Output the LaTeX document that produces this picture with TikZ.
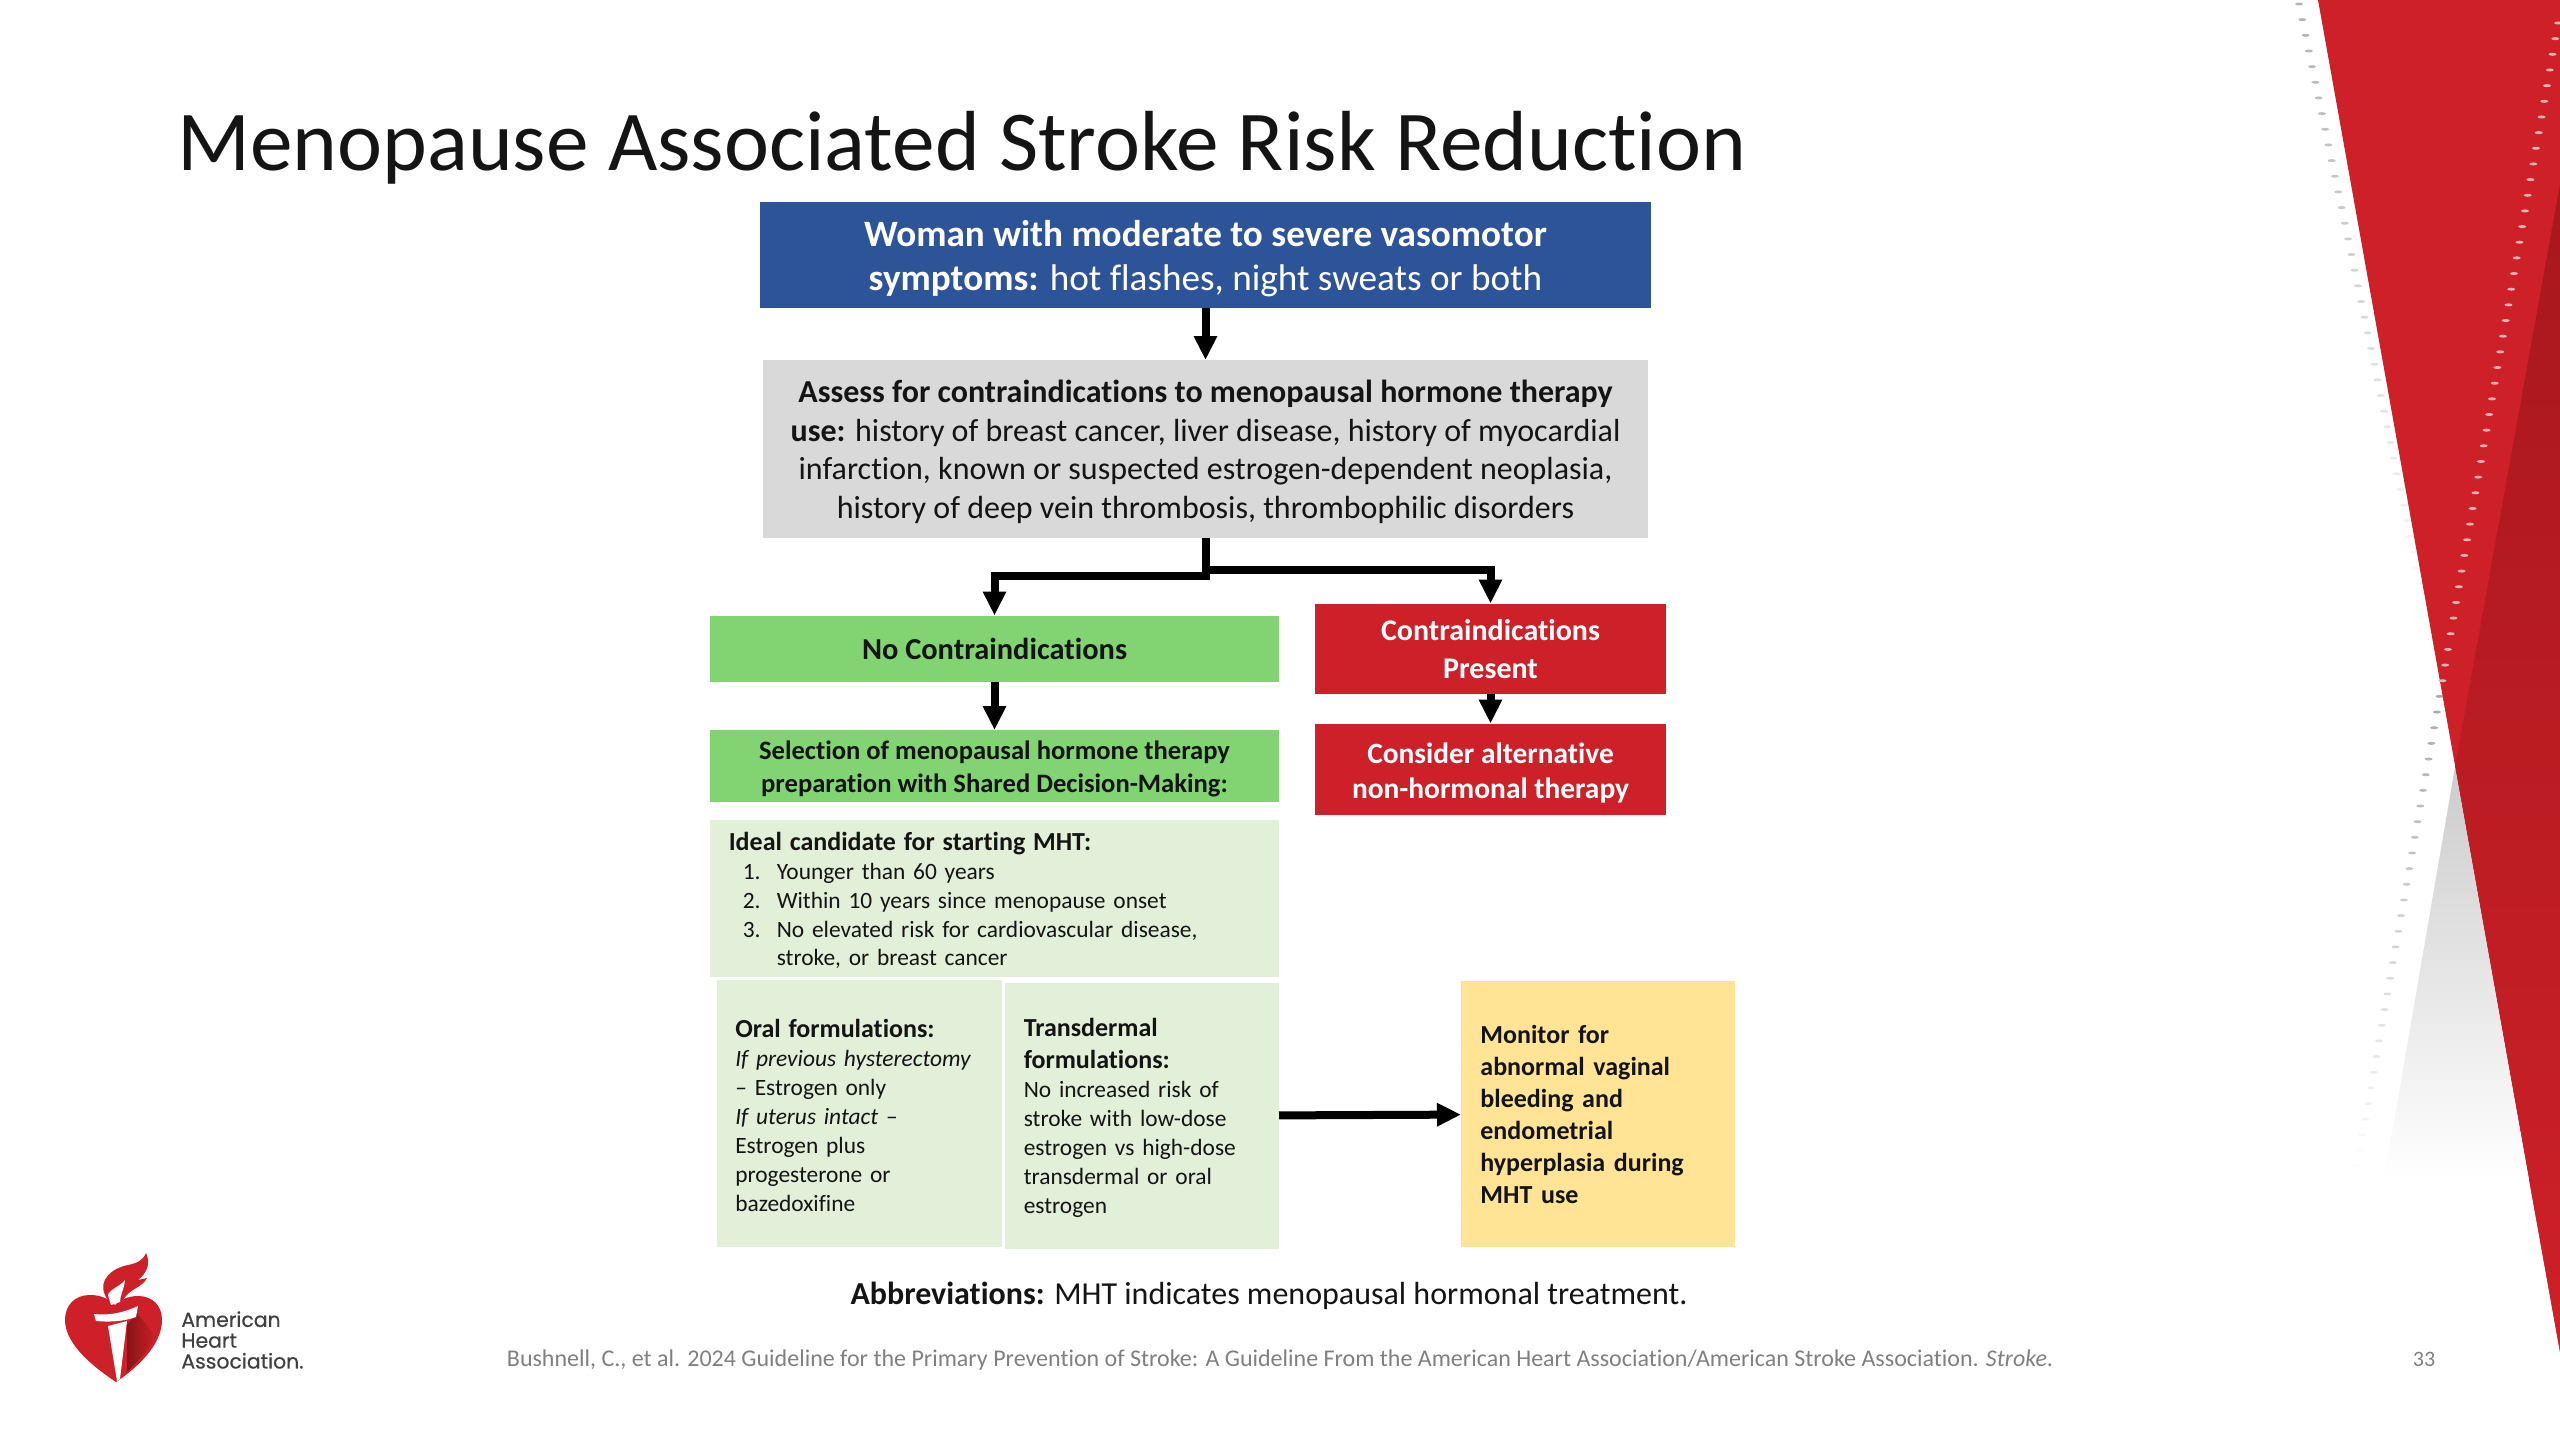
\documentclass[tikz,border=0pt]{standalone}
\usepackage{fontspec}
\setmainfont[Ligatures=NoCommon]{Carlito}
\newfontfamily\logofont[RawFeature={embolden=0.5}]{Poppins}
\usepackage{tikz}
\usetikzlibrary{arrows.meta,positioning,shapes.geometric,calc}
\definecolor{AHABlue}{RGB}{45,84,152}
\definecolor{boxgray}{RGB}{217,217,217}
\definecolor{okgreen}{RGB}{130,212,115}
\definecolor{palegreen}{RGB}{226,239,217}
\definecolor{AHARed}{RGB}{206,32,41}
\definecolor{AHADark}{RGB}{168,24,28}
\definecolor{noteyellow}{RGB}{255,228,150}
\definecolor{inkblack}{RGB}{20,20,20}
\newcommand{\numitem}[1]{\hspace*{7pt}\makebox[17pt][l]{#1}}
\newcommand{\upfix}[1]{\rule{0pt}{#1em}}
\newcommand{\hd}[1]{{\bfseries\fontsize{13}{14.45}\selectfont #1}}
\begin{document}
\begin{tikzpicture}[
  x=0.5pt,y=-0.5pt,
  box/.style={inner sep=0pt,outer sep=0pt,align=center,text=inkblack},
  bluebox/.style={box,fill=AHABlue,text=white,minimum width=445.5pt,minimum height=53pt,
    font=\fontsize{18.6}{22}\selectfont},
  graybox/.style={box,fill=boxgray,minimum width=442.5pt,minimum height=88.75pt,
    font=\fontsize{16}{19.2}\selectfont},
  greenbox/.style={box,fill=okgreen,minimum width=284.5pt,font=\bfseries},
  redbox/.style={box,fill=AHARed,text=white,minimum width=175.5pt,font=\bfseries},
  palebox/.style={box,execute at begin node=\upfix{0.95},fill=palegreen,align=left,font=\fontsize{11.7}{14.45}\selectfont},
  arrow/.style={-{Triangle[length=12pt,width=11pt]},line width=4pt,black}
]
\useasboundingbox (0,0) rectangle (2560,1440);
\fill[AHARed] (2318,0) -- (2560,0) -- (2560,1352) -- cycle;
\shade[top color=AHADark,middle color=AHADark,bottom color=AHARed]
  (2455,767) -- (2560,184) -- (2560,1352) -- cycle;
\shade[top color=black!20,bottom color=white] (2455,767) -- (2384,1180) -- (2529,1180) -- cycle;
\foreach \i in {0,...,39}{
  \pgfmathsetmacro\dotfade{0.5*(1-\i/40)}
  \fill[black!60,opacity=\dotfade] ({2299+3.27*\i},{4+15.66*\i}) ellipse [x radius=4,y radius=1.5];
}
\foreach \i in {0,...,42}{
  \fill[white!65!AHARed] ({2558-2.753*\i},{23+15.66*\i}) ellipse [x radius=4,y radius=1.5];
}
\foreach \i in {43,...,73}{
  \pgfmathsetmacro\dotfade{0.55*(74-\i)/31}
  \fill[black!60,opacity=\dotfade] ({2558-2.753*\i},{23+15.66*\i}) ellipse [x radius=4,y radius=1.5];
}
\fill[AHARed] (115,1305) .. controls (106,1296) and (96,1295) .. (90,1295)
  .. controls (75,1295) and (65,1305) .. (65,1320)
  .. controls (65,1345) and (95,1368) .. (116,1382)
  .. controls (137,1368) and (162,1345) .. (162,1320)
  .. controls (162,1305) and (152,1296) .. (138,1296)
  .. controls (128,1296) and (120,1300) .. (115,1305) -- cycle;
\shade[left color=AHADark!80!black,right color=AHARed] (127,1372) -- (127,1325) -- (137,1313)
  -- (156,1337) .. controls (148,1350) and (138,1362) .. (127,1372) -- cycle;
\fill[AHARed] (105,1295) .. controls (98,1280) and (112,1268) .. (128,1265)
  .. controls (138,1263) and (143,1260) .. (146,1253)
  .. controls (151,1263) and (147,1273) .. (138,1280) -- (147,1278)
  .. controls (142,1288) and (130,1288) .. (123,1300) -- (110,1305) -- cycle;
\fill[white] (108,1295) .. controls (111,1288) and (118,1288) .. (125,1280)
  .. controls (124,1290) and (120,1295) .. (120,1302) -- (111,1305) -- cycle;
\fill[white] (94,1314) .. controls (110,1316) and (125,1312) .. (138,1306)
  -- (136,1317) .. controls (122,1322) and (108,1322) .. (96,1321) -- cycle;
\fill[white] (108,1326) -- (127,1321) -- (120,1379) -- (117,1381) -- cycle;
\node[anchor=west,inner sep=0pt,align=left,text=black!75,font=\logofont\fontsize{10.2}{10.4}\selectfont] (logotext) at (181,1340)
  {American\\Heart\\Association.};
\node[anchor=west,inner sep=0pt,text=inkblack,font=\fontsize{42.65}{50}\selectfont] (title) at (177,148)
  {Menopause Associated Stroke Risk Reduction};
\node[bluebox,anchor=north] (woman) at (1205.5,202)
  {\upfix{0.92}\textbf{Woman with moderate to severe vasomotor}\\\textbf{symptoms:} hot flashes, night sweats or both};
\node[graybox,below=26pt of woman] (assess)
  {\upfix{0.89}\textbf{Assess for contraindications to menopausal hormone therapy}\\
   \textbf{use:} history of breast cancer, liver disease, history of myocardial\\
   infarction, known or suspected estrogen-dependent neoplasia,\\
   history of deep vein thrombosis, thrombophilic disorders};
\node[greenbox,minimum height=33.25pt,below=39pt of assess,xshift=-105.5pt,
  font=\bfseries\fontsize{15.2}{18}\selectfont] (nocontra) {No Contraindications};
\node[redbox,minimum height=45pt,below=33pt of assess,xshift=142.5pt,
  font=\bfseries\fontsize{15}{19.2}\selectfont] (present) {\upfix{0.73}Contraindications\\Present};
\node[redbox,minimum height=45.5pt,below=15pt of present,
  font=\bfseries\fontsize{14.7}{17.5}\selectfont] (alternative) {\upfix{0.94}Consider alternative\\non-hormonal therapy};
\node[greenbox,minimum height=36pt,below=24pt of nocontra,
  font=\bfseries\fontsize{13.3}{16.3}\selectfont] (selection)
  {\upfix{0.92}Selection of menopausal hormone therapy\\preparation with Shared Decision-Making:};
\node[palebox,minimum height=78.5pt,text width=265.7pt,inner xsep=9.4pt,below=9pt of selection] (ideal)
  {\hd{Ideal candidate for starting MHT:}\\
   \numitem{1.}Younger than 60 years\\
   \numitem{2.}Within 10 years since menopause onset\\
   \numitem{3.}No elevated risk for cardiovascular disease,\\
   \hspace*{24pt}stroke, or breast cancer};
\node[palebox,minimum height=133.5pt,text width=123.95pt,inner xsep=9.4pt,
  below right=1.5pt and 3.25pt of ideal.south west] (oral)
  {\hd{Oral formulations:}\\
   \textit{If previous hysterectomy}\\
   -- Estrogen only\\
   \textit{If uterus intact} --\\
   Estrogen plus\\
   progesterone or\\
   bazedoxifine};
\node[palebox,minimum height=133pt,text width=118.2pt,inner xsep=9.4pt,
  below left=3pt and 0pt of ideal.south east] (transdermal)
  {\hd{Transdermal}\\[1.6pt]
   \hd{formulations:}\\
   No increased risk of\\
   stroke with low-dose\\
   estrogen vs high-dose\\
   transdermal or oral\\
   estrogen};
\node[box,fill=noteyellow,align=left,minimum height=133.25pt,text width=117.4pt,inner xsep=9.7pt,
  right=91pt of transdermal,yshift=1pt,font=\bfseries\fontsize{13}{16}\selectfont] (monitor)
  {Monitor for\\abnormal vaginal\\bleeding and\\endometrial\\hyperplasia during\\MHT use};
\node[inner sep=0pt,text=inkblack,font=\fontsize{16}{19}\selectfont] (abbrev) at (1269,1296)
  {\textbf{Abbreviations:} MHT indicates menopausal hormonal treatment.};
\node[inner sep=0pt,text=black!50,font=\fontsize{12}{14}\selectfont] (citation) at (1280,1360)
  {Bushnell, C., et al. 2024 Guideline for the Primary Prevention of Stroke: A Guideline From the American Heart Association/American Stroke Association. \textit{Stroke}.};
\node[inner sep=0pt,text=black!50,font=\fontsize{11}{13}\selectfont] (pagenum) at (2424,1359) {33};
\draw[arrow] (woman) -- (assess);
\draw[arrow] (assess.south) -- ++(0,38) -| (nocontra.north);
\draw[arrow] (assess.south) -- ++(0,32) -| (present.north);
\draw[arrow] (nocontra) -- (selection);
\draw[arrow] (present) -- (alternative);
\draw[arrow] (transdermal) -- (monitor);
\end{tikzpicture}
\end{document}
